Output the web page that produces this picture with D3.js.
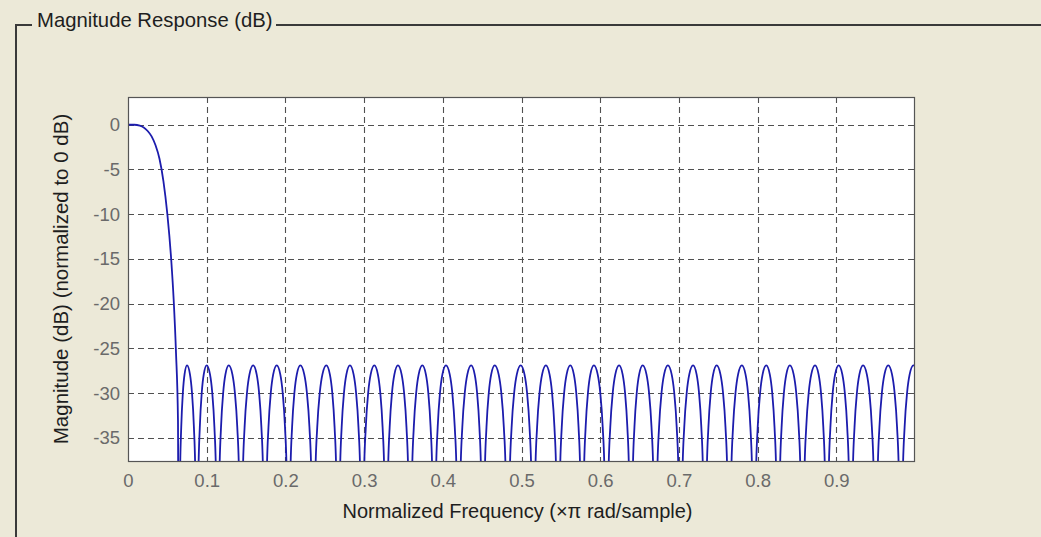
<!DOCTYPE html>
<html>
<head>
<meta charset="utf-8">
<script src="https://cdn.jsdelivr.net/npm/d3@7"></script>
<style>
  html, body { margin: 0; padding: 0; background: #ece9d8; }
  svg { display: block; font-family: "Liberation Sans", Arial, sans-serif; }
</style>
</head>
<body>
<svg width="1041" height="537"></svg>
<script>
// passband + transition band
var passFreq = [0, 0.008, 0.015, 0.02, 0.025, 0.03, 0.035, 0.04, 0.045, 0.05, 0.055, 0.058, 0.061, 0.0635, 0.0645];
var passDb   = [0, 0, -0.1, -0.3, -0.7, -1.3, -2.3, -3.8, -6.3, -10.0, -15.2, -19.5, -25.5, -33, -67];

// stopband lobes: peak positions and nulls between them
var peakFreq = [0.075, 0.100, 0.128, 0.159, 0.189, 0.219, 0.252, 0.282, 0.313, 0.343,
                0.374, 0.404, 0.436, 0.466, 0.499, 0.531, 0.562, 0.592, 0.624, 0.654,
                0.686, 0.718, 0.748, 0.780, 0.811, 0.841, 0.873, 0.903, 0.934, 0.966, 0.998];
var nullFreq = [0.0645, 0.0875, 0.114, 0.1435, 0.174, 0.204, 0.2355, 0.267, 0.2975, 0.328,
                0.3585, 0.389, 0.420, 0.451, 0.4825, 0.515, 0.5465, 0.577, 0.608, 0.639,
                0.670, 0.702, 0.733, 0.764, 0.7955, 0.826, 0.857, 0.888, 0.9185, 0.950, 0.982, 1.03];
var rippleDb = -26.9;

// shape of one lobe: fraction of the way from peak to null, and dB below the peak
var lobeStep = [0, 0.3, 0.5, 0.7, 0.85, 1];
var lobeDrop = [0, -1.0, -3.0, -6.9, -12.6, -40];

var xTicks = [0, 0.1, 0.2, 0.3, 0.4, 0.5, 0.6, 0.7, 0.8, 0.9];
var yTicks = [0, -5, -10, -15, -20, -25, -30, -35];

var svg = d3.select("svg");

var pL = 128, pR = 915, pT = 97, pB = 462;

var x = d3.scaleLinear().domain([0, 1]).range([pL, pR]);
var y = d3.scaleLinear().domain([-37.7, 3.1]).range([pB, pT]);

// group box frame
var frame = svg.append("g").attr("stroke", "#3a3a3a").attr("stroke-width", 2).attr("fill", "none");
frame.append("path").attr("d", "M16,537V25H32");
frame.append("path").attr("d", "M276,25H1041");
svg.append("text")
  .attr("x", 37).attr("y", 27)
  .attr("font-size", 20.3)
  .attr("fill", "#1e1e1e")
  .text("Magnitude Response (dB)");

// plot area
svg.append("rect")
  .attr("x", pL).attr("y", pT)
  .attr("width", pR - pL).attr("height", pB - pT)
  .attr("fill", "#ffffff");

svg.append("clipPath").attr("id", "plotclip")
  .append("rect")
  .attr("x", pL).attr("y", pT)
  .attr("width", pR - pL).attr("height", pB - pT);

// grid
var grid = svg.append("g")
  .attr("stroke", "#505050").attr("stroke-width", 1.1)
  .attr("stroke-dasharray", "6,4").attr("fill", "none");

grid.selectAll(".gx").data(xTicks.slice(1)).enter().append("line")
  .attr("x1", function(d) { return Math.round(x(d)) + 0.5; })
  .attr("x2", function(d) { return Math.round(x(d)) + 0.5; })
  .attr("y1", pT).attr("y2", pB);

grid.selectAll(".gy").data(yTicks).enter().append("line")
  .attr("y1", function(d) { return Math.round(y(d)) + 0.5; })
  .attr("y2", function(d) { return Math.round(y(d)) + 0.5; })
  .attr("x1", pL).attr("x2", pR);

// build the response from passband points and the lobes
var pts = [];
for (var i = 0; i < passFreq.length; i++) {
  pts.push([passFreq[i], passDb[i]]);
}
for (var k = 0; k < peakFreq.length; k++) {
  var p = peakFreq[k], a = nullFreq[k], b = nullFreq[k + 1];
  for (var j = lobeStep.length - 2; j >= 1; j--) {
    pts.push([p - lobeStep[j] * (p - a), rippleDb + lobeDrop[j]]);
  }
  pts.push([p, rippleDb]);
  for (var j = 1; j < lobeStep.length; j++) {
    pts.push([p + lobeStep[j] * (b - p), rippleDb + lobeDrop[j]]);
  }
}

var line = d3.line()
  .x(function(d) { return x(d[0]); })
  .y(function(d) { return y(d[1]); })
  .curve(d3.curveMonotoneX);

svg.append("path")
  .datum(pts)
  .attr("clip-path", "url(#plotclip)")
  .attr("fill", "none")
  .attr("stroke", "#1c1cad")
  .attr("stroke-width", 1.8)
  .attr("stroke-linejoin", "round")
  .attr("d", line);

// border and axes
svg.append("rect")
  .attr("x", pL + 0.5).attr("y", pT + 0.5)
  .attr("width", pR - pL - 1).attr("height", pB - pT - 1)
  .attr("fill", "none").attr("stroke", "#555").attr("stroke-width", 1.2);

var xAxis = d3.axisBottom(x).tickValues(xTicks).tickSize(0).tickPadding(12)
  .tickFormat(function(d) { return d === 0 ? "0" : d3.format(".1f")(d); });
var yAxis = d3.axisLeft(y).tickValues(yTicks).tickSize(0).tickPadding(8)
  .tickFormat(function(d) { return String(d); });

var gx = svg.append("g").attr("transform", "translate(0," + pB + ")").call(xAxis);
var gy = svg.append("g").attr("transform", "translate(" + pL + ",0)").call(yAxis);

[gx, gy].forEach(function(g) {
  g.select(".domain").remove();
  g.selectAll("text")
    .attr("font-family", "Liberation Sans, Arial, sans-serif")
    .attr("font-size", 18.5)
    .attr("fill", "#6a6a6a");
});

svg.append("text")
  .attr("x", (pL + pR) / 2 - 4).attr("y", 518)
  .attr("text-anchor", "middle")
  .attr("font-size", 20)
  .attr("fill", "#1e1e1e")
  .text("Normalized Frequency (\u00d7\u03c0 rad/sample)");

svg.append("text")
  .attr("transform", "translate(68,279) rotate(-90)")
  .attr("text-anchor", "middle")
  .attr("font-size", 20.5)
  .attr("fill", "#1e1e1e")
  .text("Magnitude (dB) (normalized to 0 dB)");
</script>
</body>
</html>
